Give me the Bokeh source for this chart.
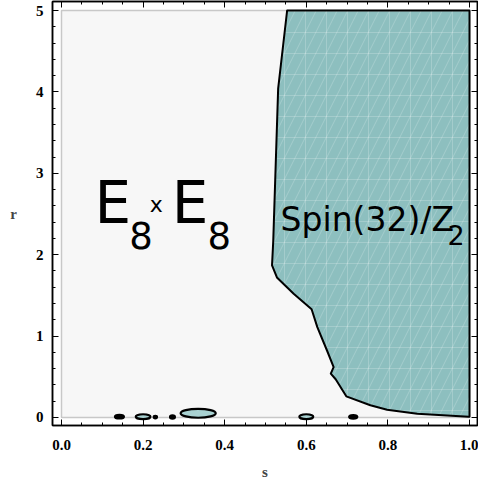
from bokeh.plotting import figure
from bokeh.models import LinearAxis, Range1d, NumeralTickFormatter, FixedTicker
from bokeh.embed import file_html
from bokeh.resources import INLINE
from bokeh.core.properties import value

# ---- data ----
s_range = [0.0, 1.0]
r_range = [0.0, 5.0]

# boundary of the Spin(32)/Z2 region
s_boundary = [0.553, 0.531, 0.519, 0.516, 0.528, 0.569, 0.613, 0.627, 0.651,
              0.667, 0.660, 0.672, 0.698, 0.757, 0.798, 0.872, 0.998, 1.0, 1.0]
r_boundary = [5.0, 4.04, 2.17, 1.87, 1.72, 1.52, 1.33, 1.11, 0.82,
              0.62, 0.54, 0.47, 0.26, 0.15, 0.095, 0.045, 0.01, 0.01, 5.0]

# small islands near r = 0
blob_s = [0.142, 0.200, 0.230, 0.272, 0.335, 0.600, 0.715]
blob_r = [0.010, 0.010, 0.005, 0.005, 0.052, 0.010, 0.008]
blob_w = [0.022, 0.036, 0.008, 0.012, 0.086, 0.034, 0.020]
blob_h = [0.045, 0.060, 0.030, 0.040, 0.110, 0.060, 0.045]
blob_fill = ["black", "#a9d2d2", "black", "black", "#a9d2d2", "#a9d2d2", "black"]

x_ticks = [0.0, 0.2, 0.4, 0.6, 0.8, 1.0]
y_ticks = [0, 1, 2, 3, 4, 5]

TEAL = "#8dbfbf"
BG = "#f7f7f7"

p = figure(width=478, height=485, output_backend="svg", toolbar_location=None,
           x_range=Range1d(-0.02206, 1.0196), y_range=Range1d(-0.0983, 5.1106),
           min_border_left=52, min_border_right=1, min_border_top=1, min_border_bottom=60)
p.grid.visible = False
p.background_fill_color = "white"
p.border_fill_color = "white"
p.outline_line_color = "black"
p.outline_line_width = 1.5

# plot-range region
p.quad(left=[s_range[0]], right=[s_range[1]], bottom=[r_range[0]], top=[r_range[1]],
       fill_color=BG, line_color="#c8c8c8", line_width=1.5)

# teal region
p.patch(s_boundary, r_boundary, fill_color=TEAL, line_color=None)
p.patch(s_boundary, r_boundary, fill_alpha=0, line_color=None,
        hatch_pattern="+", hatch_color="white", hatch_alpha=0.2, hatch_scale=21, hatch_weight=1)
p.patch(s_boundary, r_boundary, fill_alpha=0, line_color=None,
        hatch_pattern="/", hatch_color="white", hatch_alpha=0.2, hatch_scale=21, hatch_weight=1)
p.patch(s_boundary, r_boundary, fill_alpha=0, line_color="black", line_width=2,
        line_join="round")

p.ellipse(x=blob_s, y=blob_r, width=blob_w, height=blob_h,
          fill_color=blob_fill, line_color="black", line_width=2.2)

# axes styling
TF = "Liberation Serif"
for ax in (p.xaxis[0], p.yaxis[0]):
    ax.major_tick_in = 6
    ax.major_tick_out = 0
    ax.minor_tick_in = 3
    ax.minor_tick_out = 0
    ax.major_label_text_font = TF
    ax.major_label_text_font_style = "bold"
    ax.major_label_text_font_size = "15px"
    ax.major_label_text_color = "black"
    ax.axis_label_text_font = TF
    ax.axis_label_text_font_style = "bold"
    ax.axis_label_text_font_size = "15px"
    ax.axis_line_width = 1.5

p.xaxis.ticker = FixedTicker(ticks=x_ticks, minor_ticks=[i * 0.05 for i in range(21)])
p.yaxis.ticker = FixedTicker(ticks=y_ticks, minor_ticks=[i * 0.2 for i in range(26)])
p.xaxis.formatter = NumeralTickFormatter(format="0.0")
p.xaxis.axis_label = "s"
p.yaxis.axis_label = "r"
p.xaxis.major_label_standoff = 14
p.xaxis.axis_label_standoff = 11
p.yaxis.major_label_standoff = 9
p.yaxis.axis_label_standoff = 16
p.yaxis.axis_label_orientation = "horizontal"

top_ax = LinearAxis(ticker=FixedTicker(ticks=x_ticks, minor_ticks=[i * 0.05 for i in range(21)]),
                    major_label_overrides={t: "" for t in x_ticks},
                    major_tick_in=6, major_tick_out=0, minor_tick_in=3, minor_tick_out=0,
                    major_label_standoff=0, axis_line_width=1.5)
right_ax = LinearAxis(ticker=FixedTicker(ticks=y_ticks, minor_ticks=[i * 0.2 for i in range(26)]),
                      major_label_overrides={t: "" for t in y_ticks},
                      major_tick_in=6, major_tick_out=0, minor_tick_in=3, minor_tick_out=0,
                      major_label_standoff=0, axis_line_width=1.5)
p.add_layout(top_ax, "above")
p.add_layout(right_ax, "right")

# region labels
LF = value("DejaVu Sans")
def lab(xs, ys, ts, size):
    p.text(x=xs, y=ys, text=ts, text_font=LF, text_font_size=size,
           text_color="black", text_align="left", text_baseline="alphabetic")

lab([0.081, 0.270], [2.641, 2.641], ["E", "E"], "58px")
lab([0.166, 0.358], [2.236, 2.236], ["8", "8"], "37px")
lab([0.216], [2.617], ["x"], "22px")
lab([0.537], [2.436], ["Spin(32)/Z"], "33px")
lab([0.946], [2.248], ["2"], "27px")

open("out.html", "w").write(file_html(p, INLINE))
